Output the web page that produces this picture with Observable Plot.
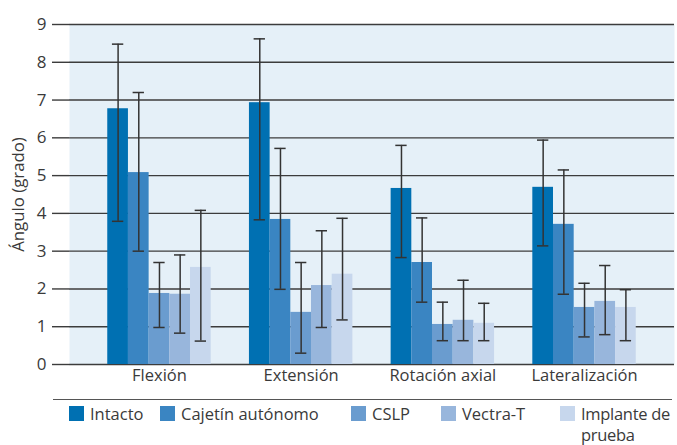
<!DOCTYPE html>
<html>
<head>
<meta charset="utf-8">
<script src="https://cdn.jsdelivr.net/npm/d3@7"></script>
<script src="https://cdn.jsdelivr.net/npm/@observablehq/plot@0.6"></script>
<style>
  html, body { margin: 0; padding: 0; background: #fff; overflow: hidden; }
  body { width: 677px; height: 445px; font-family: "Open Sans", "Noto Sans", sans-serif; color: #3a3a3a; }
  #chart svg { display: block; }
  #legend { position: relative; margin-left: 53px; width: 619px; height: 44px; border-top: 1.5px solid #555; margin-top: 3px; font-size: 16.5px; }
  .item { position: absolute; top: 5px; display: flex; align-items: flex-start; }
  .sw { width: 15px; height: 15px; margin-top: 1px; margin-right: 6px; flex: none; }
  .lab { line-height: 21px; margin-top: -2px; }
  .item:nth-child(1) { left: 16px; }
  .item:nth-child(2) { left: 107px; }
  .item:nth-child(3) { left: 298px; }
  .item:nth-child(4) { left: 388px; }
  .item:nth-child(5) { left: 507px; }
  .item:nth-child(5) .lab { width: 92px; letter-spacing: -0.3px; }
</style>
</head>
<body>
<div id="chart"></div>
<div id="legend"></div>
<script>
const categories = ["Flexión", "Extensión", "Rotación axial", "Lateralización"];
const series = ["Intacto", "Cajetín autónomo", "CSLP", "Vectra-T", "Implante de prueba"];
const colors = ["#0070b2", "#3a85c2", "#6a9ccf", "#98b6dc", "#c7d7ed"];
const yTicks = [0, 1, 2, 3, 4, 5, 6, 7, 8, 9];
const yLabel = "Ángulo (grado)";

// means per series, in category order
const intacto   = [6.77, 6.93, 4.66, 4.69];
const cajetin   = [5.08, 3.84, 2.70, 3.71];
const cslp      = [1.88, 1.38, 1.06, 1.51];
const vectra    = [1.86, 2.09, 1.17, 1.67];
const implante  = [2.57, 2.39, 1.09, 1.51];
// error bar lower ends
const intactoLo  = [3.79, 3.83, 2.83, 3.14];
const cajetinLo  = [3.00, 1.99, 1.65, 1.86];
const cslpLo     = [0.98, 0.30, 0.63, 0.73];
const vectraLo   = [0.83, 0.98, 0.63, 0.79];
const implanteLo = [0.62, 1.18, 0.63, 0.63];
// error bar upper ends
const intactoHi  = [8.48, 8.62, 5.80, 5.94];
const cajetinHi  = [7.20, 5.72, 3.88, 5.15];
const cslpHi     = [2.70, 2.70, 1.65, 2.15];
const vectraHi   = [2.90, 3.54, 2.23, 2.62];
const implanteHi = [4.08, 3.87, 1.62, 1.98];

const means = [intacto, cajetin, cslp, vectra, implante];
const lows = [intactoLo, cajetinLo, cslpLo, vectraLo, implanteLo];
const highs = [intactoHi, cajetinHi, cslpHi, vectraHi, implanteHi];

// grouped layout in category-index units (band padding 0.27)
const pad = 0.27;
const groupW = 1 - pad;
const barW = groupW / series.length;
const capHalf = 0.04;

const table = [];
categories.forEach((cat, i) => {
  series.forEach((s, j) => {
    const x1 = i - groupW / 2 + j * barW;
    const xc = x1 + barW / 2;
    table.push({cat, series: s, x1, x2: x1 + barW, xc, c1: xc - capHalf, c2: xc + capHalf,
      v: means[j][i], lo: lows[j][i], hi: highs[j][i]});
  });
});

const font = '"Open Sans", "Noto Sans", sans-serif';
const plot = Plot.plot({
  width: 677,
  height: 396,
  marginLeft: 69,
  marginRight: 3,
  marginTop: 24,
  marginBottom: 32,
  style: {fontFamily: font, fontSize: "16px", color: "#3a3a3a", background: "transparent"},
  x: {domain: [-0.5 - pad / 2, categories.length - 0.5 + pad / 2], axis: null},
  y: {domain: [0, 9], axis: null},
  color: {domain: series, range: colors},
  marks: [
    Plot.frame({fill: "#e5f0f8", stroke: null}),
    Plot.ruleY(yTicks, {stroke: "#3c3c3c", strokeWidth: 1.4}),
    Plot.axisY({ticks: yTicks, tickSize: 17, tickPadding: 6, stroke: "#3c3c3c", strokeWidth: 1.4, label: null, fontSize: 17}),
    Plot.rect(table, {x1: "x1", x2: "x2", y1: 0, y2: "v", fill: "series"}),
    Plot.ruleX(table, {x: "xc", y1: "lo", y2: "hi", stroke: "#333", strokeWidth: 1.5}),
    Plot.ruleY(table, {y: "lo", x1: "c1", x2: "c2", stroke: "#333", strokeWidth: 1.5}),
    Plot.ruleY(table, {y: "hi", x1: "c1", x2: "c2", stroke: "#333", strokeWidth: 1.5}),
    Plot.axisX({ticks: categories.map((c, i) => i), tickFormat: i => categories[i], tickSize: 0, tickPadding: 5, label: null, fontSize: 16.5}),
    Plot.text([yLabel], {frameAnchor: "left", textAnchor: "middle", dx: -51, rotate: -90, fontSize: 16.8, fill: "#3a3a3a"})
  ]
});
document.getElementById("chart").appendChild(plot);

const legend = d3.select("#legend");
series.forEach((s, j) => {
  const it = legend.append("div").attr("class", "item");
  it.append("div").attr("class", "sw").style("background", colors[j]);
  it.append("div").attr("class", "lab").text(s);
});
</script>
</body>
</html>
